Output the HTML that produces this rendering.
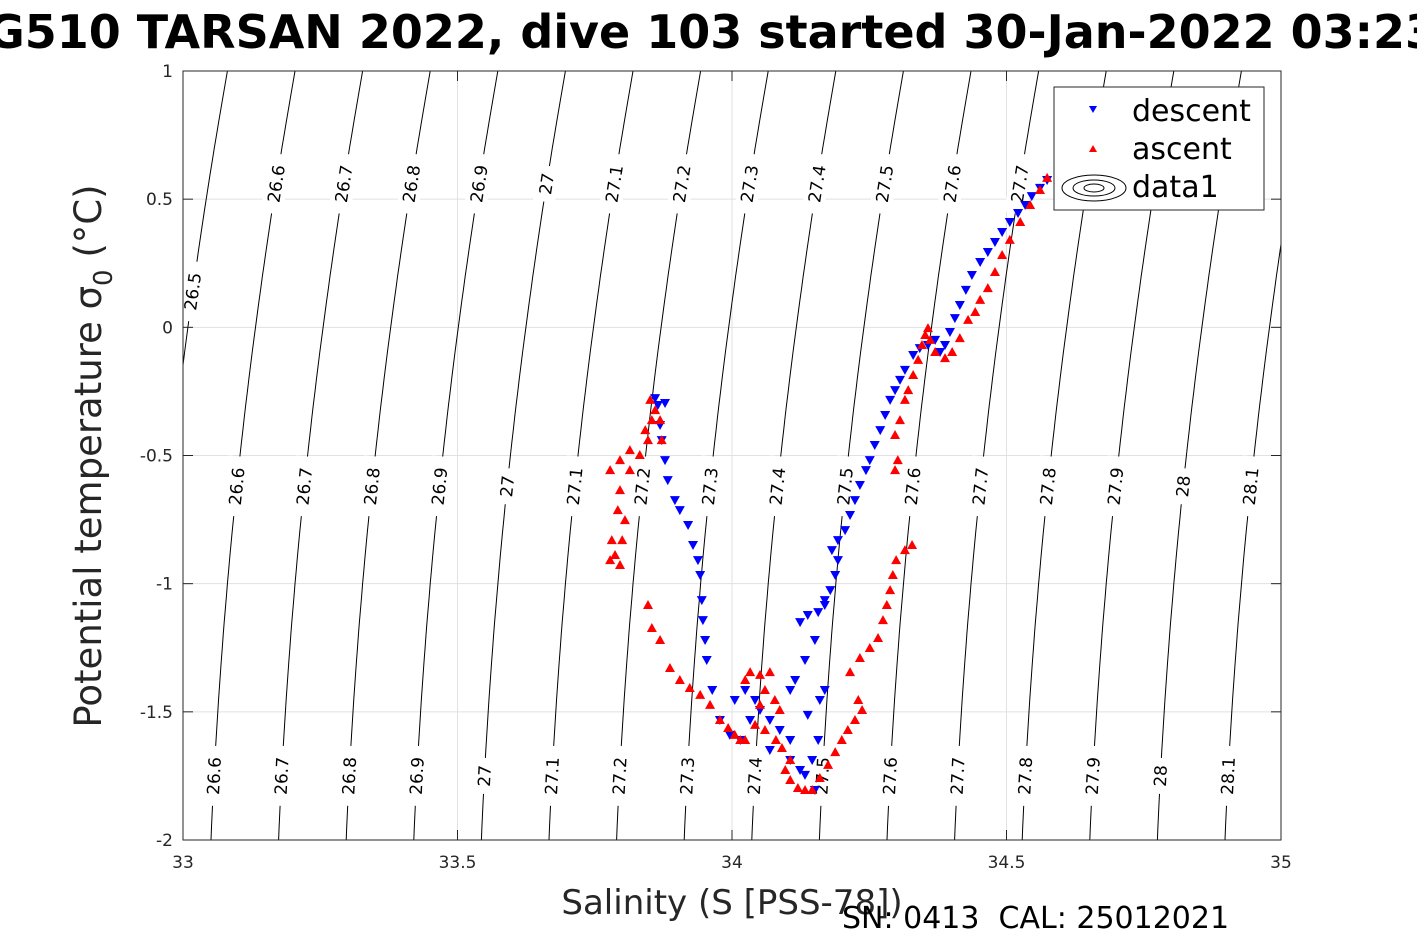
<!DOCTYPE html>
<html><head><meta charset="utf-8"><style>
html,body{margin:0;padding:0;background:#fff;}
svg{display:block;font-family:"DejaVu Sans","Liberation Sans",sans-serif;}
</style></head><body>
<svg id="chart" width="1417" height="945" viewBox="0 0 1417 945" xmlns="http://www.w3.org/2000/svg">
<rect width="1417" height="945" fill="#fff"/>
<g id="grid"></g>
<g id="contours"></g>
<g id="clabels"></g>
<g id="series"></g>
<g id="axes"></g>
<text x="712" y="48" text-anchor="middle" font-size="46" font-weight="bold" fill="#000">G510 TARSAN 2022, dive 103 started 30-Jan-2022 03:23</text>
<text x="732" y="914" text-anchor="middle" font-size="34" fill="#262626">Salinity (S [PSS-78])</text>
<text transform="translate(101,456) rotate(-90)" text-anchor="middle" font-size="37" fill="#262626">Potential temperature σ<tspan font-size="26" dy="11">0</tspan><tspan dy="-11"> (°C)</tspan></text>
<text x="842" y="928" font-size="30" fill="#000">SN: 0413&#160;&#160;CAL: 25012021</text>
<g>
<rect x="1054" y="87" width="210" height="123" fill="#fff" stroke="#262626" stroke-width="1"/>
<polygon points="1089,106 1097,106 1093,113" fill="#00f"/>
<text x="1132" y="121" font-size="30" fill="#000">descent</text>
<polygon points="1089,152 1097,152 1093,145" fill="#f00"/>
<text x="1132" y="159" font-size="30" fill="#000">ascent</text>
<g fill="none" stroke="#000" stroke-width="1">
<ellipse cx="1094" cy="188" rx="32" ry="13"/><ellipse cx="1094" cy="188" rx="21" ry="8"/><ellipse cx="1094" cy="188" rx="10" ry="4"/></g>
<text x="1132" y="197" font-size="30" fill="#000">data1</text>
</g>
</svg>
<script>
// ---- data ----
const xTicks = [33, 33.5, 34, 34.5, 35];
const xTickLabels = ["33", "33.5", "34", "34.5", "35"];
const yTicks = [1, 0.5, 0, -0.5, -1, -1.5, -2];
const yTickLabels = ["1", "0.5", "0", "-0.5", "-1", "-1.5", "-2"];
const sigmaLevels = [26.5,26.6,26.7,26.8,26.9,27,27.1,27.2,27.3,27.4,27.5,27.6,27.7,27.8,27.9,28,28.1];
const sigmaLabels = ["26.5","26.6","26.7","26.8","26.9","27","27.1","27.2","27.3","27.4","27.5","27.6","27.7","27.8","27.9","28","28.1"];
const labelRowTop = [26.6,26.7,26.8,26.9,27,27.1,27.2,27.3,27.4,27.5,27.6,27.7];
const labelRowMid = [26.6,26.7,26.8,26.9,27,27.1,27.2,27.3,27.4,27.5,27.6,27.7,27.8,27.9,28,28.1];
const labelRowBot = [26.6,26.7,26.8,26.9,27,27.1,27.2,27.3,27.4,27.5,27.6,27.7,27.8,27.9,28,28.1];
const descentS = [34.574,34.561,34.546,34.534,34.521,34.506,34.492,34.479,34.466,34.452,34.437,34.426,34.415,34.406,34.397,34.388,34.379,34.370,34.357,34.342,34.330,34.315,34.306,34.297,34.288,34.279,34.270,34.260,34.251,34.244,34.233,34.224,34.215,34.206,34.193,34.182,34.193,34.188,34.179,34.169,34.157,34.138,34.124,34.169,34.151,34.133,34.115,34.106,34.138,34.160,34.169,34.157,34.146,34.133,34.151,34.124,34.106,34.087,34.069,34.042,34.024,34.005,34.015,34.033,34.069,34.106,34.051,33.996,33.978,33.964,33.954,33.951,33.947,33.945,33.942,33.938,33.929,33.920,33.905,33.896,33.883,33.878,33.872,33.869,33.865,33.860,33.878];
const descentT = [0.575,0.544,0.512,0.477,0.446,0.411,0.372,0.333,0.294,0.255,0.204,0.146,0.087,0.036,-0.018,-0.069,-0.096,-0.049,-0.069,-0.081,-0.108,-0.166,-0.205,-0.245,-0.283,-0.342,-0.401,-0.459,-0.518,-0.557,-0.615,-0.674,-0.732,-0.791,-0.830,-0.869,-0.908,-0.966,-1.025,-1.083,-1.111,-1.122,-1.150,-1.064,-1.220,-1.298,-1.376,-1.415,-1.512,-1.454,-1.415,-1.610,-1.688,-1.746,-1.805,-1.727,-1.610,-1.571,-1.532,-1.454,-1.415,-1.454,-1.610,-1.532,-1.649,-1.688,-1.493,-1.590,-1.532,-1.415,-1.298,-1.220,-1.142,-1.064,-0.966,-0.908,-0.849,-0.771,-0.713,-0.674,-0.596,-0.518,-0.440,-0.381,-0.303,-0.276,-0.295];
const ascentS = [34.574,34.561,34.543,34.525,34.506,34.492,34.479,34.466,34.452,34.443,34.430,34.415,34.401,34.388,34.370,34.361,34.357,34.352,34.346,34.339,34.330,34.321,34.315,34.306,34.297,34.302,34.297,34.328,34.315,34.299,34.293,34.288,34.282,34.275,34.266,34.251,34.233,34.215,34.230,34.237,34.224,34.211,34.200,34.188,34.175,34.160,34.146,34.133,34.120,34.106,34.097,34.106,34.091,34.080,34.060,34.087,34.078,34.060,34.051,34.042,34.024,34.015,34.005,33.993,33.978,33.960,33.942,33.923,33.905,33.887,33.869,33.854,33.847,34.051,34.069,34.033,34.024,33.796,33.787,33.800,33.805,33.792,33.781,33.778,33.796,33.814,33.832,33.847,33.854,33.851,33.860,33.869,33.872,33.842,33.814,33.796,33.778];
const ascentT = [0.583,0.536,0.477,0.411,0.341,0.282,0.216,0.153,0.107,0.060,0.029,-0.042,-0.096,-0.120,-0.096,-0.049,-0.003,-0.030,-0.069,-0.127,-0.186,-0.245,-0.283,-0.362,-0.420,-0.518,-0.557,-0.849,-0.869,-0.908,-0.966,-1.025,-1.083,-1.142,-1.212,-1.251,-1.290,-1.345,-1.454,-1.493,-1.532,-1.571,-1.610,-1.657,-1.707,-1.758,-1.805,-1.805,-1.797,-1.766,-1.727,-1.688,-1.641,-1.610,-1.571,-1.493,-1.454,-1.415,-1.473,-1.551,-1.610,-1.610,-1.590,-1.563,-1.532,-1.473,-1.434,-1.407,-1.376,-1.329,-1.220,-1.173,-1.083,-1.356,-1.345,-1.345,-1.376,-0.927,-0.888,-0.830,-0.752,-0.713,-0.830,-0.908,-0.635,-0.557,-0.498,-0.440,-0.362,-0.283,-0.323,-0.362,-0.440,-0.401,-0.479,-0.518,-0.557];

// ---- scales ----
const X0=183,X1=1281,Y0=840,Y1=71;
const sx = s => X0 + (s-33)/(35-33)*(X1-X0);
const sy = t => Y0 - (t+2)/3*(Y0-Y1);
function isoS(sig,t){const u=t+2;return 33+(28+(sig-26.6)*676+10.67*u+5.78*u*u)/549;}
function isoSlope(t){const u=t+2;return (10.67+11.56*u)/549;}
const NS="http://www.w3.org/2000/svg";
function mk(tag,attrs,parent){const e=document.createElementNS(NS,tag);for(const k in attrs)e.setAttribute(k,attrs[k]);parent.appendChild(e);return e;}
const grid=document.getElementById('grid'),cont=document.getElementById('contours'),cl=document.getElementById('clabels'),ser=document.getElementById('series'),ax=document.getElementById('axes');

const defs=mk('defs',{},document.getElementById('chart'));
const cp=mk('clipPath',{id:'plotclip'},defs);
mk('rect',{x:X0,y:Y1,width:X1-X0,height:Y0-Y1},cp);
cont.setAttribute('clip-path','url(#plotclip)');
ser.setAttribute('clip-path','url(#plotclip)');

xTicks.forEach(v=>{const l=mk('line',{x1:sx(v),x2:sx(v),y1:Y1,y2:Y0,stroke:'#e1e1e1','stroke-width':1},grid);

});
yTicks.forEach(v=>{const l=mk('line',{x1:X0,x2:X1,y1:sy(v),y2:sy(v),stroke:'#e1e1e1','stroke-width':1},grid);

});

sigmaLevels.forEach(sig=>{let d='';for(let t=-2.05;t<=1.05;t+=0.05){d+=(d?'L':'M')+sx(isoS(sig,t)).toFixed(1)+','+sy(t).toFixed(1);}
const p=mk('path',{d:d,fill:'none',stroke:'#000','stroke-width':1},cont);

});

function addLabel(sig,t){const x=sx(isoS(sig,t)),y=sy(t);
const slope=isoSlope(t)*(X1-X0)/2/((Y0-Y1)/3);const ang=-90+Math.atan(slope)*180/Math.PI;
const g=mk('g',{transform:`translate(${x.toFixed(1)},${y.toFixed(1)}) rotate(${ang.toFixed(1)})`},cl);


const txt=sigmaLabels[sigmaLevels.indexOf(sig)];
mk('rect',{x:-txt.length*6-6,y:-11,width:txt.length*12+12,height:22,fill:'#fff'},g);
const te=mk('text',{x:0,y:6,'text-anchor':'middle','font-size':17,fill:'#000'},g);te.textContent=txt;}
labelRowTop.forEach(s=>addLabel(s,0.56));
addLabel(26.5,0.14);
labelRowMid.forEach(s=>addLabel(s,-0.62));
labelRowBot.forEach(s=>addLabel(s,-1.75));

descentS.forEach((s,i)=>{const x=sx(s),y=sy(descentT[i]);
const p=mk('polygon',{points:`${x-5},${y-4} ${x+5},${y-4} ${x},${y+5}`,fill:'#00f'},ser);

});
ascentS.forEach((s,i)=>{const x=sx(s),y=sy(ascentT[i]);
const p=mk('polygon',{points:`${x-5},${y+4} ${x+5},${y+4} ${x},${y-5}`,fill:'#f00'},ser);

});

mk('rect',{x:X0,y:Y1,width:X1-X0,height:Y0-Y1,fill:'none',stroke:'#262626','stroke-width':1},ax);
xTicks.forEach((v,i)=>{mk('line',{x1:sx(v),x2:sx(v),y1:Y0,y2:Y0-10,stroke:'#262626'},ax);
mk('line',{x1:sx(v),x2:sx(v),y1:Y1,y2:Y1+10,stroke:'#262626'},ax);
const t=mk('text',{x:sx(v),y:Y0+28,'text-anchor':'middle','font-size':17,fill:'#262626'},ax);t.textContent=xTickLabels[i];

});
yTicks.forEach((v,i)=>{mk('line',{x1:X0,x2:X0+10,y1:sy(v),y2:sy(v),stroke:'#262626'},ax);
mk('line',{x1:X1,x2:X1-10,y1:sy(v),y2:sy(v),stroke:'#262626'},ax);
const t=mk('text',{x:X0-10,y:sy(v)+6,'text-anchor':'end','font-size':17,fill:'#262626'},ax);t.textContent=yTickLabels[i];

});
</script>
</body></html>
